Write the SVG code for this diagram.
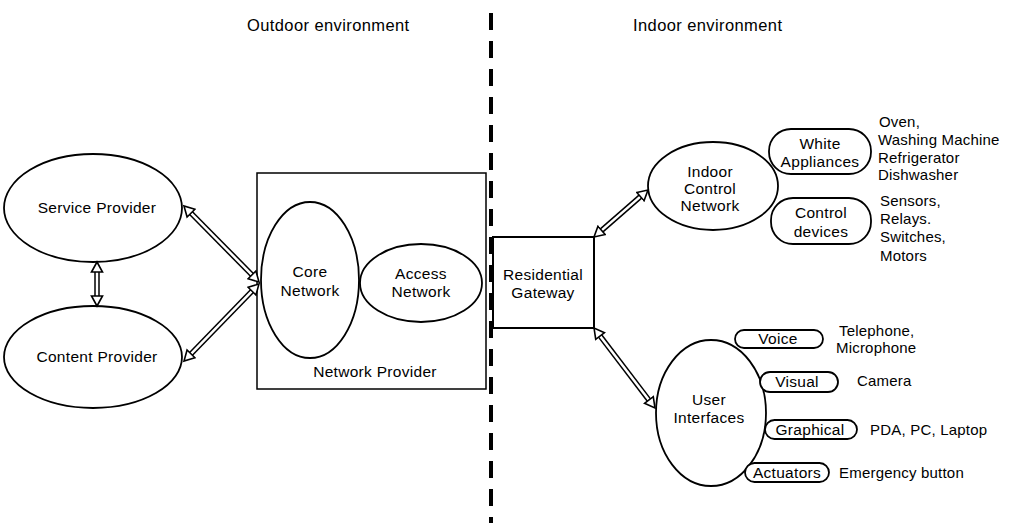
<svg xmlns="http://www.w3.org/2000/svg" width="1012" height="523" viewBox="0 0 1012 523">
<style>
text{font-family:"Liberation Sans",Arial,sans-serif;fill:#000;}
.t{font-size:15.5px;text-anchor:middle;letter-spacing:0.3px;}
.s{font-size:15px;letter-spacing:0.2px;}
.h{font-size:16.5px;letter-spacing:0.4px;}
.n{fill:#fff;stroke:#000;stroke-width:1.8;}
.b{fill:none;stroke:#000;stroke-width:1.5;}
.o{fill:none;stroke:#000;stroke-width:5.5;}
.i{fill:none;stroke:#fff;stroke-width:2.5;marker-start:url(#ah);marker-end:url(#ah);}
</style>
<defs>
<marker id="ah" markerUnits="userSpaceOnUse" viewBox="-2 -7 14 14" refX="0" refY="0" markerWidth="14" markerHeight="14" orient="auto-start-reverse">
<path d="M-1,-5.5 L9,0 L-1,5.5 Z" fill="#fff" stroke="#000" stroke-width="1.6" stroke-linejoin="miter"/>
</marker>
</defs>
<rect width="1012" height="523" fill="#fff"/>
<text class="h" x="247" y="31">Outdoor environment</text>
<text class="h" x="633" y="31">Indoor environment</text>
<line x1="491" y1="13" x2="491" y2="523" stroke="#000" stroke-width="4" stroke-dasharray="17 11"/>
<g id="network-provider">
<rect x="257" y="173" width="229" height="216" class="b"/>
<text class="t" x="375" y="377">Network Provider</text>
</g>
<g id="core-network">
<ellipse cx="310" cy="280" rx="49" ry="78" class="n"/>
<text class="t" x="310" y="277">Core</text>
<text class="t" x="310" y="296">Network</text>
</g>
<g id="access-network">
<ellipse cx="421" cy="283" rx="61" ry="39" class="n"/>
<text class="t" x="421" y="279">Access</text>
<text class="t" x="421" y="297">Network</text>
</g>
<g id="service-provider">
<ellipse cx="93" cy="208" rx="89" ry="54" class="n"/>
<text class="t" x="97" y="213">Service Provider</text>
</g>
<g id="content-provider">
<ellipse cx="93" cy="357" rx="89" ry="51" class="n"/>
<text class="t" x="97" y="362">Content Provider</text>
</g>
<g id="residential-gateway">
<rect x="493" y="237" width="101" height="91" fill="#fff" stroke="#000" stroke-width="2"/>
<text class="t" x="543" y="280">Residential</text>
<text class="t" x="543" y="298">Gateway</text>
</g>
<g id="indoor-control-network">
<ellipse cx="713" cy="186" rx="65" ry="44" class="n"/>
<text class="t" x="710" y="177">Indoor</text>
<text class="t" x="710" y="194">Control</text>
<text class="t" x="710" y="211">Network</text>
</g>
<g id="white-appliances">
<rect x="769" y="129" width="102" height="45" rx="22" class="n"/>
<text class="t" x="820" y="149">White</text>
<text class="t" x="820" y="167">Appliances</text>
</g>
<g id="control-devices">
<rect x="771" y="198" width="100" height="46" rx="22" class="n"/>
<text class="t" x="821" y="218">Control</text>
<text class="t" x="821" y="237">devices</text>
</g>
<g id="white-appliances-list">
<text class="s" x="879" y="127">Oven,</text>
<text class="s" x="878" y="145">Washing Machine</text>
<text class="s" x="878" y="163">Refrigerator</text>
<text class="s" x="878" y="180">Dishwasher</text>
</g>
<g id="control-devices-list">
<text class="s" x="880" y="206">Sensors,</text>
<text class="s" x="880" y="224">Relays.</text>
<text class="s" x="880" y="242">Switches,</text>
<text class="s" x="880" y="261">Motors</text>
</g>
<g id="user-interfaces">
<ellipse cx="711" cy="413" rx="55" ry="73" class="n"/>
<text class="t" x="709" y="405">User</text>
<text class="t" x="709" y="423">Interfaces</text>
</g>
<g id="voice">
<rect x="735" y="330" width="88" height="18" rx="9" class="n"/>
<text class="t" x="778" y="344">Voice</text>
</g>
<g id="visual">
<rect x="760" y="372" width="78" height="20" rx="10" class="n"/>
<text class="t" x="797" y="387">Visual</text>
</g>
<g id="graphical">
<rect x="765" y="420" width="92" height="19" rx="9.5" class="n"/>
<text class="t" x="810" y="435">Graphical</text>
</g>
<g id="actuators">
<rect x="745" y="463" width="84" height="19" rx="9.5" class="n"/>
<text class="t" x="787" y="478">Actuators</text>
</g>
<g id="ui-list">
<text class="s" x="839" y="336">Telephone,</text>
<text class="s" x="836" y="353">Microphone</text>
<text class="s" x="857" y="386">Camera</text>
<text class="s" x="870" y="435">PDA, PC, Laptop</text>
<text class="s" x="839" y="478">Emergency button</text>
</g>
<g id="connectors">
<path class="o" d="M190.3,212.4 L252.7,275.6"/>
<path class="i" d="M190.3,212.4 L252.7,275.6"/>
<path class="o" d="M190.3,354.6 L252.7,290.4"/>
<path class="i" d="M190.3,354.6 L252.7,290.4"/>
<path class="o" d="M97,271 L97,297"/>
<path class="i" d="M97,271 L97,297"/>
<path class="o" d="M600.8,231.1 L641.2,195.9"/>
<path class="i" d="M600.8,231.1 L641.2,195.9"/>
<path class="o" d="M599.5,335.2 L649.5,400.8"/>
<path class="i" d="M599.5,335.2 L649.5,400.8"/>
</g>
</svg>
